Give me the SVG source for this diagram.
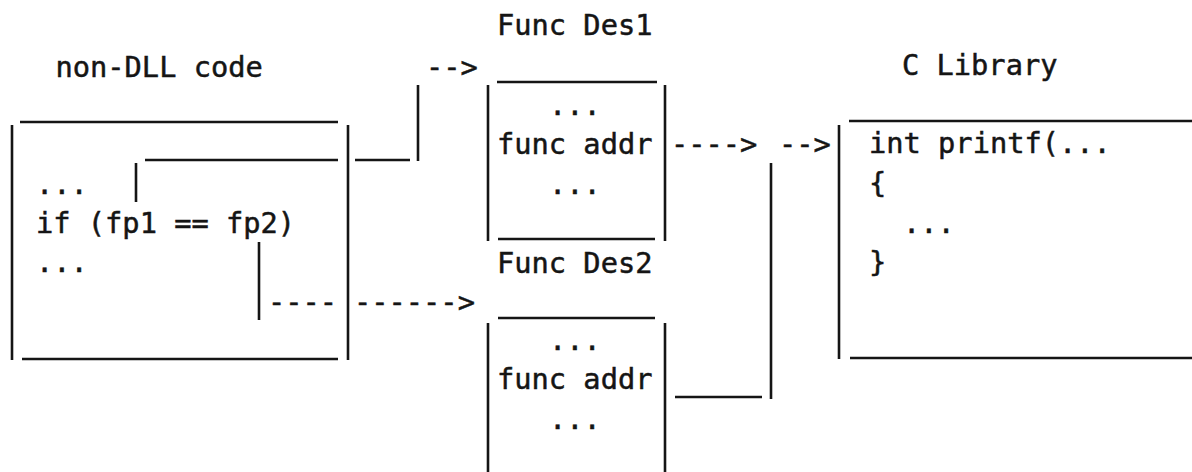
<svg xmlns="http://www.w3.org/2000/svg" width="1192" height="472" viewBox="0 0 1192 472">
<style>
text{font-family:"DejaVu Sans Mono","Liberation Mono",monospace;font-size:28.7px;fill:#151515;stroke:#151515;stroke-width:0.5}
line{stroke:#151515;stroke-width:2.6;stroke-linecap:butt}
</style>
<rect width="1192" height="472" fill="#fff"/>
<g id="non-dll-code">
<text x="55.5" y="77">non-DLL code</text>
<line x1="20" y1="122" x2="338" y2="122"/>
<line x1="12" y1="125" x2="12" y2="360"/>
<line x1="348" y1="125" x2="348" y2="360"/>
<line x1="22" y1="359" x2="338" y2="359"/>
<text x="36" y="194">...</text>
<text x="36" y="233">if (fp1 == fp2)</text>
<text x="36" y="272">...</text>
</g>
<g id="func-des1">
<text x="497" y="35">Func Des1</text>
<line x1="497" y1="82" x2="657" y2="82"/>
<line x1="488" y1="85" x2="488" y2="241"/>
<line x1="665" y1="85" x2="665" y2="241"/>
<line x1="498" y1="239" x2="655" y2="239"/>
<text x="549" y="115">...</text>
<text x="497" y="154">func addr</text>
<text x="549" y="194">...</text>
</g>
<g id="func-des2">
<text x="497" y="273">Func Des2</text>
<line x1="498" y1="318" x2="655" y2="318"/>
<line x1="488" y1="323" x2="488" y2="472"/>
<line x1="665" y1="323" x2="665" y2="472"/>
<text x="549" y="350">...</text>
<text x="497" y="389">func addr</text>
<text x="549" y="429">...</text>
</g>
<g id="c-library">
<text x="902" y="75">C Library</text>
<line x1="849" y1="121" x2="1192" y2="121"/>
<line x1="839" y1="125" x2="839" y2="359"/>
<line x1="850" y1="358" x2="1192" y2="358"/>
<text x="869" y="153">int printf(...</text>
<text x="869" y="193">{</text>
<text x="903" y="233">...</text>
<text x="869" y="272">}</text>
</g>
<g id="connectors">
<line x1="145" y1="160" x2="338" y2="160"/>
<line x1="136" y1="163" x2="136" y2="202"/>
<line x1="355" y1="160" x2="410" y2="160"/>
<line x1="418" y1="85" x2="418" y2="161"/>
<text x="426" y="77">--&gt;</text>
<line x1="259" y1="242" x2="259" y2="320"/>
<text x="268" y="312">----</text>
<text x="354" y="312">------&gt;</text>
<text x="671" y="154">----&gt;</text>
<text x="779" y="154">--&gt;</text>
<line x1="675" y1="397" x2="762" y2="397"/>
<line x1="771" y1="163" x2="771" y2="399"/>
</g>
</svg>
